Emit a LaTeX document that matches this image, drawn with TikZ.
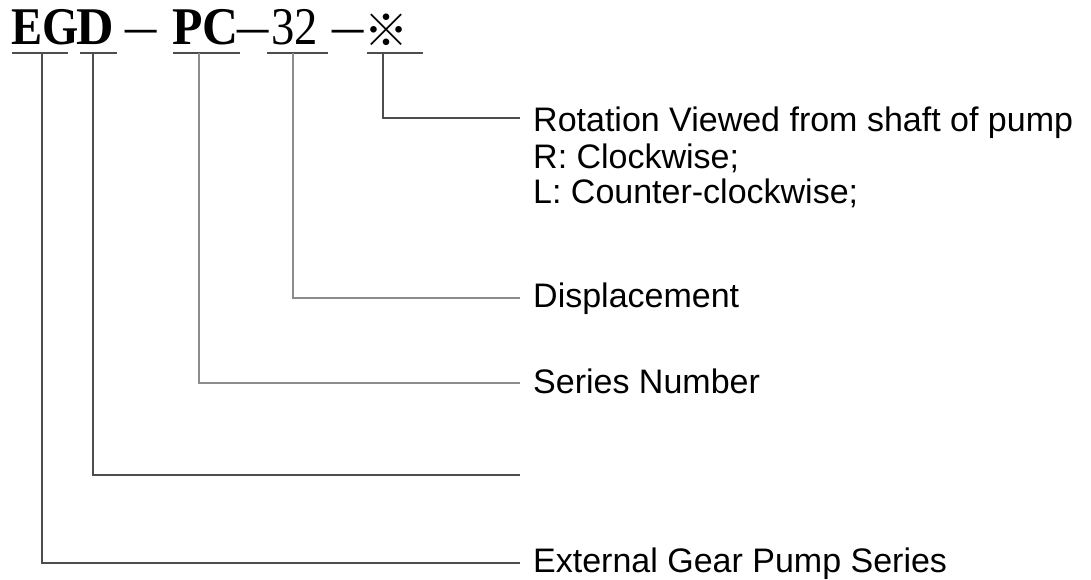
\documentclass[tikz,border=0pt]{standalone}
\usepackage{fontspec}
\setmainfont{Liberation Serif}
\newfontfamily\labfont{Liberation Sans}
\newfontfamily\markfont{Noto Sans CJK SC}
\usepackage{xcolor}
\usepackage{tikz}
\usetikzlibrary{positioning}

\definecolor{leaddark}{HTML}{4D4D4D}
\definecolor{leadpale}{HTML}{8C8C8C}
\newcommand{\narrow}[1]{\scalebox{0.88}[1]{#1}}
\newcommand{\widedash}{\scalebox{1.25}[1.1]{–}}

\begin{document}
\begin{tikzpicture}[x=1pt, y=-1pt,
  code/.style={inner sep=0pt, anchor=base west, font=\fontsize{53}{53}\selectfont},
  dashpart/.style={inner sep=0pt, anchor=base west, font=\fontsize{50}{50}\selectfont},
  lab/.style={inner sep=0pt, anchor=base west, font=\labfont\fontsize{34}{36}\selectfont},
  uline/.style={line width=2pt, draw=leaddark},
  dark/.style={line width=2pt, draw=leaddark},
  pale/.style={line width=2pt, draw=leadpale}]
  \useasboundingbox[fill=white] (0,0) rectangle (1091,580);
  % model code, one piece per field
  \node[code] (EG) at (11,45) {\narrow{\bfseries EG}};
  \node[code] (D) at (76,45) {\scalebox{0.98}[1]{\bfseries D}};
  \node[dashpart] (dashA) at (125,45) {\widedash};
  \node[code] (PC) at (172,45) {\scalebox{0.94}[1]{\bfseries PC}};
  \node[dashpart] (dashB) at (237,45) {\widedash};
  \node[code] (num) at (271,45) {\narrow{32}};
  \node[dashpart] (dashC) at (332,45) {\widedash};
  \node[inner sep=0pt, anchor=base west, font=\markfont\fontsize{44}{44}\selectfont] (mark) at (364,47) {※};
  % underlines below the fields
  \draw[uline] (12,53) -- (68,53);
  \draw[uline] (80,53) -- (117,53);
  \draw[uline] (173,53) -- (240,53);
  \draw[uline] (267,53) -- (328,53);
  \draw[uline] (367,53) -- (423,53);
  \coordinate (tEG) at (42,53);
  \coordinate (tD) at (93,53);
  \coordinate (tPC) at (199,53);
  \coordinate (tNum) at (293,53);
  \coordinate (tMark) at (383,53);
  % ends of the leader lines
  \coordinate (eRot) at (520,118);
  \coordinate (eDisp) at (520,298);
  \coordinate (eSer) at (520,383);
  \coordinate (eD) at (520,475);
  \coordinate (eExt) at (520,563);
  % explanations
  \node[lab] (rot) at (533,132) {Rotation Viewed from shaft of pump};
  \node[lab] (rotR) at (533,168) {R: Clockwise;};
  \node[lab] (rotL) at (533,204) {L: Counter-clockwise;};
  \node[lab] (disp) at (533,307) {Displacement};
  \node[lab] (ser) at (533,393) {Series Number};
  \node[lab] (ext) at (533,572) {External Gear Pump Series};
  % leaders
  \draw[dark] (tMark) |- (eRot);
  \draw[pale] (tNum) |- (eDisp);
  \draw[pale] (tPC) |- (eSer);
  \draw[dark] (tD) |- (eD);
  \draw[dark] (tEG) |- (eExt);
\end{tikzpicture}
\end{document}
